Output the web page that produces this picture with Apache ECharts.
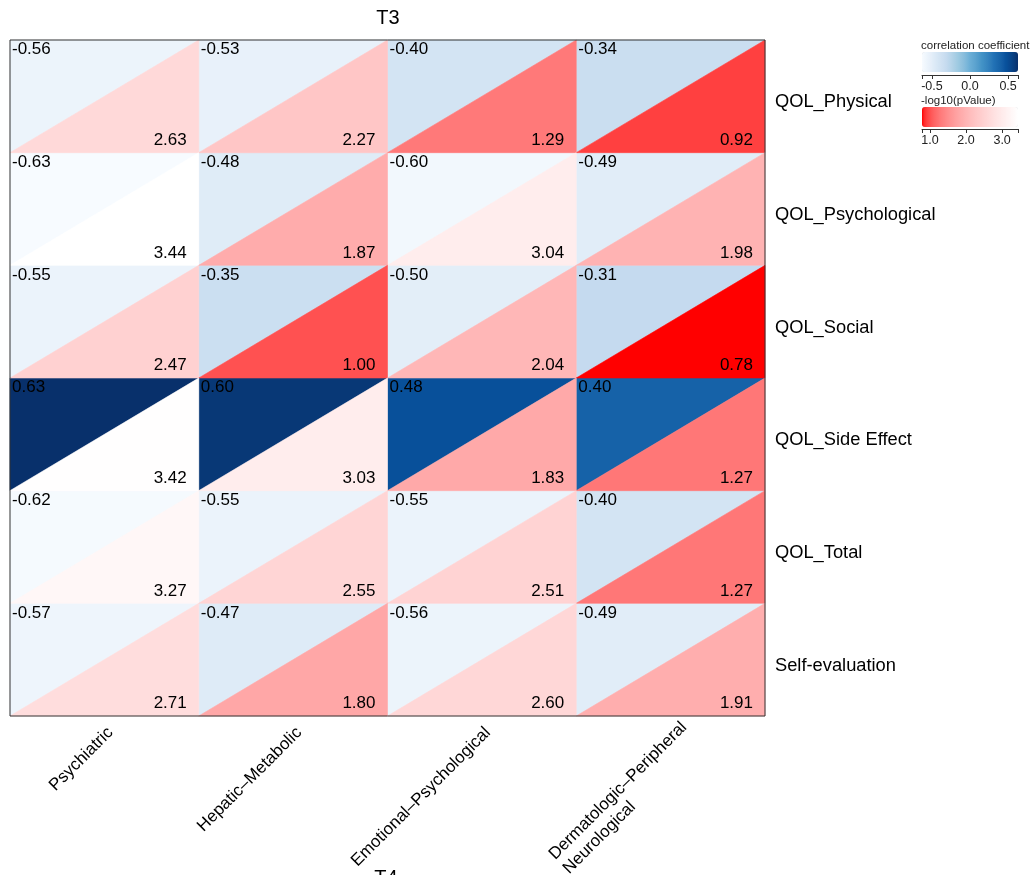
<!DOCTYPE html>
<html>
<head>
<meta charset="utf-8">
<script src="https://cdn.jsdelivr.net/npm/echarts@6/dist/echarts.min.js"></script>
<style>
  html, body { margin: 0; padding: 0; background: #ffffff; }
  #chart { width: 1036px; height: 875px; }
</style>
</head>
<body>
<div id="chart"></div>
<script>
// Symptom clusters (columns) and quality-of-life outcomes (rows)
const clusters = ['Psychiatric', 'Hepatic–Metabolic', 'Emotional–Psychological', 'Dermatologic–Peripheral\nNeurological'];
const outcomes = ['QOL_Physical', 'QOL_Psychological', 'QOL_Social', 'QOL_Side Effect', 'QOL_Total', 'Self-evaluation'];

// Correlation coefficient, one row per outcome, one entry per cluster
const corrPhysical      = [-0.56, -0.53, -0.40, -0.34];
const corrPsychological = [-0.63, -0.48, -0.60, -0.49];
const corrSocial        = [-0.55, -0.35, -0.50, -0.31];
const corrSideEffect    = [ 0.63,  0.60,  0.48,  0.40];
const corrTotal         = [-0.62, -0.55, -0.55, -0.40];
const corrSelfEval      = [-0.57, -0.47, -0.56, -0.49];

// -log10(p value), same layout
const pPhysical      = [2.63, 2.27, 1.29, 0.92];
const pPsychological = [3.44, 1.87, 3.04, 1.98];
const pSocial        = [2.47, 1.00, 2.04, 0.78];
const pSideEffect    = [3.42, 3.03, 1.83, 1.27];
const pTotal         = [3.27, 2.55, 2.51, 1.27];
const pSelfEval      = [2.71, 1.80, 2.60, 1.91];

// Legend tick labels
const corrTicks = [-0.5, 0.0, 0.5];
const pTicks = [1.0, 2.0, 3.0];

const corrRows = [corrPhysical, corrPsychological, corrSocial, corrSideEffect, corrTotal, corrSelfEval];
const pRows = [pPhysical, pPsychological, pSocial, pSideEffect, pTotal, pSelfEval];

const corrData = [];
const pData = [];
corrRows.forEach((row, r) => row.forEach((v, c) => corrData.push([c, r, v])));
pRows.forEach((row, r) => row.forEach((v, c) => pData.push([c, r, v])));

const corrMin = Math.min(...corrRows.flat());
const corrMax = Math.max(...corrRows.flat());
const pMin = Math.min(...pRows.flat());
const pMax = Math.max(...pRows.flat());

// Colour ramps blended in linear-light RGB
function hexToRgb(h) {
  h = h.replace('#', '');
  return [parseInt(h.slice(0, 2), 16), parseInt(h.slice(2, 4), 16), parseInt(h.slice(4, 6), 16)];
}
function toLin(c) { c /= 255; return c <= 0.04045 ? c / 12.92 : Math.pow((c + 0.055) / 1.055, 2.4); }
function fromLin(c) { const v = c <= 0.0031308 ? 12.92 * c : 1.055 * Math.pow(c, 1 / 2.4) - 0.055; return Math.max(0, Math.min(255, Math.round(v * 255))); }
function toHex(rgb) { return '#' + rgb.map(v => v.toString(16).padStart(2, '0')).join(''); }
function linearRamp(anchors, n) {
  const lin = anchors.map(h => hexToRgb(h).map(toLin));
  const out = [];
  for (let i = 0; i < n; i++) {
    const pos = i / (n - 1) * (lin.length - 1);
    const k = Math.min(Math.floor(pos), lin.length - 2);
    const f = pos - k;
    out.push(toHex([0, 1, 2].map(j => fromLin(lin[k][j] + (lin[k + 1][j] - lin[k][j]) * f))));
  }
  return out;
}

// ColorBrewer Blues anchors; red-to-white anchors
const bluesAnchors = ['#F7FBFF', '#DEEBF7', '#C6DBEF', '#9ECAE1', '#6BAED6', '#4292C6', '#2171B5', '#08519C', '#08306B'];
const redsAnchors = ['#FF0000', '#FFFFFF'];
const blues = linearRamp(bluesAnchors, 33);
const reds = linearRamp(redsAnchors, 41);

const FONT = 'Liberation Sans, Arial, Helvetica, sans-serif';

function cellBox(api) {
  const c = api.coord([api.value(0), api.value(1)]);
  const s = api.size([1, 1]);
  return { l: c[0] - s[0] / 2, t: c[1] - s[1] / 2, r: c[0] + s[0] / 2, b: c[1] + s[1] / 2 };
}

// Upper-left triangle: correlation coefficient
function renderCorr(params, api) {
  const k = cellBox(api);
  return {
    type: 'group',
    children: [
      { type: 'polygon', shape: { points: [[k.l, k.t], [k.r, k.t], [k.l, k.b]] },
        style: { fill: api.visual('color'), stroke: api.visual('color'), lineWidth: 0.6 } },
      { type: 'text', z2: 10,
        style: { text: api.value(2).toFixed(2), x: k.l + 2, y: k.t + 1, textAlign: 'left', textVerticalAlign: 'top',
                 font: '17px ' + FONT, fill: '#000000' } }
    ]
  };
}

// Lower-right triangle: -log10(p value)
function renderP(params, api) {
  const k = cellBox(api);
  return {
    type: 'group',
    children: [
      { type: 'polygon', shape: { points: [[k.r, k.t], [k.r, k.b], [k.l, k.b]] },
        style: { fill: api.visual('color'), stroke: api.visual('color'), lineWidth: 0.6 } },
      { type: 'text', z2: 10,
        style: { text: api.value(2).toFixed(2), x: k.r - 12, y: k.b - 4, textAlign: 'right', textVerticalAlign: 'bottom',
                 font: '17px ' + FONT, fill: '#000000' } }
    ]
  };
}

const chart = echarts.init(document.getElementById('chart'), null, { renderer: 'canvas' });

const legendAxisCommon = {
  type: 'value',
  position: 'bottom',
  splitLine: { show: false },
  axisLine: { show: true, lineStyle: { color: '#333333', width: 1 } },
  axisTick: { show: true, length: 4, inside: false, lineStyle: { color: '#333333', width: 1 } },
  axisLabel: { show: true, fontSize: 12.5, fontFamily: FONT, color: '#222222', margin: 5,
               formatter: v => v.toFixed(1) }
};

chart.setOption({
  animation: false,
  backgroundColor: '#ffffff',
  title: [
    { text: 'T3', left: 388, top: 8, padding: 0, textAlign: 'center',
      textStyle: { fontSize: 20, fontWeight: 'normal', fontFamily: FONT, color: '#000000' } },
    { text: 'T4', left: 386, top: 868, padding: 0, textAlign: 'center',
      textStyle: { fontSize: 20, fontWeight: 'normal', fontFamily: FONT, color: '#000000' } },
    { text: 'correlation coefficient', left: 921, top: 40, padding: 0,
      textStyle: { fontSize: 11.5, fontWeight: 'normal', fontFamily: FONT, color: '#222222' } },
    { text: '-log10(pValue)', left: 921, top: 95, padding: 0,
      textStyle: { fontSize: 11.5, fontWeight: 'normal', fontFamily: FONT, color: '#222222' } }
  ],
  grid: [
    { left: 10, top: 40, width: 755, height: 676, show: true, z: 5, outerBoundsMode: 'none', containLabel: false,
      backgroundColor: 'transparent', borderColor: '#333333', borderWidth: 1 },
    { left: 922, top: 74, width: 96, height: 1, outerBoundsMode: 'none' },
    { left: 922, top: 128, width: 96, height: 1, outerBoundsMode: 'none' }
  ],
  xAxis: [
    { gridIndex: 0, type: 'category', data: clusters, position: 'bottom',
      axisLine: { show: false }, axisTick: { show: false }, splitLine: { show: false },
      axisLabel: {
        interval: 0, rotate: 45, margin: 8, fontSize: 17, fontFamily: FONT, color: '#000000',
        align: 'right', verticalAlign: 'top',
        formatter: v => v.includes('\n') ? v.split('\n').map(s => '{w|' + s + '}').join('\n') : v,
        rich: { w: { width: 178, align: 'left', fontSize: 17, fontFamily: FONT, color: '#000000', lineHeight: 20 } }
      } },
    Object.assign({ gridIndex: 1, min: corrMin, max: corrMax }, legendAxisCommon, {
      axisTick: Object.assign({}, legendAxisCommon.axisTick, { customValues: [corrMin].concat(corrTicks, [corrMax]) }),
      axisLabel: Object.assign({}, legendAxisCommon.axisLabel, { customValues: corrTicks })
    }),
    Object.assign({ gridIndex: 2, min: pMin, max: pMax }, legendAxisCommon, {
      axisTick: Object.assign({}, legendAxisCommon.axisTick, { customValues: [pMin].concat(pTicks, [pMax]) }),
      axisLabel: Object.assign({}, legendAxisCommon.axisLabel, { customValues: pTicks })
    })
  ],
  yAxis: [
    { gridIndex: 0, type: 'category', data: outcomes, inverse: true, position: 'right',
      axisLine: { show: false }, axisTick: { show: false }, splitLine: { show: false },
      axisLabel: { margin: 10, fontSize: 18.3, fontFamily: FONT, color: '#000000',
                   verticalAlign: 'top', lineHeight: 12 } },
    { gridIndex: 1, type: 'value', show: false },
    { gridIndex: 2, type: 'value', show: false }
  ],
  visualMap: [
    { type: 'continuous', seriesIndex: 0, dimension: 2, min: corrMin, max: corrMax,
      inRange: { color: blues }, orient: 'horizontal', left: 922, top: 52,
      itemWidth: 20, itemHeight: 96, calculable: false, hoverLink: false, padding: 0, showLabel: false },
    { type: 'continuous', seriesIndex: 1, dimension: 2, min: pMin, max: pMax,
      inRange: { color: reds }, orient: 'horizontal', left: 922, top: 107,
      itemWidth: 20, itemHeight: 96, calculable: false, hoverLink: false, padding: 0, showLabel: false }
  ],
  series: [
    { type: 'custom', name: 'correlation', xAxisIndex: 0, yAxisIndex: 0, renderItem: renderCorr, data: corrData,
      encode: { x: 0, y: 1 }, z: 2 },
    { type: 'custom', name: 'pvalue', xAxisIndex: 0, yAxisIndex: 0, renderItem: renderP, data: pData,
      encode: { x: 0, y: 1 }, z: 2 }
  ]
});
</script>
</body>
</html>
